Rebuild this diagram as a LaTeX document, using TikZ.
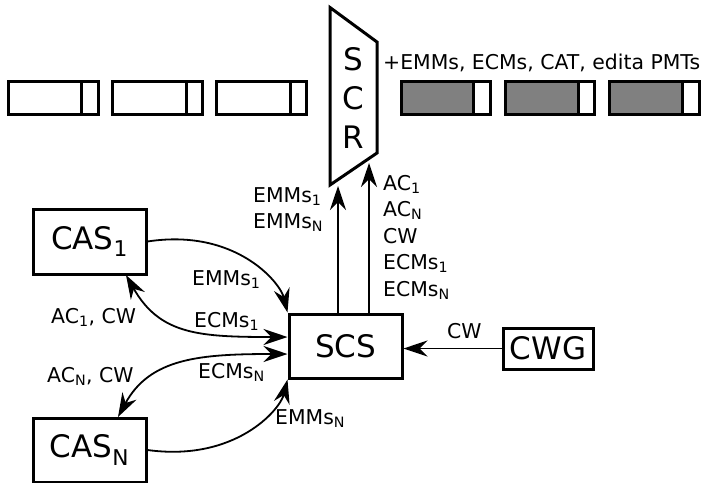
\documentclass[tikz,border=0pt]{standalone}
\usepackage{fontspec}
\setmainfont{DejaVu Sans}
\usetikzlibrary{arrows.meta}
\newcommand{\sbs}[1]{\textsubscript{#1}}
\tikzset{
  box/.style={draw, line width=3pt, rectangle, inner sep=0pt, font=\fontsize{31}{33}\selectfont},
  conn/.style={line width=1.8pt, -{Stealth[length=24pt,width=16pt,inset=8pt]}},
  bconn/.style={line width=1.8pt, {Stealth[length=24pt,width=16pt,inset=8pt]}-{Stealth[length=24pt,width=16pt,inset=8pt]}},
  lbl/.style={font=\fontsize{20.4}{22}\selectfont, anchor=base west, inner sep=0pt},
  pkt/.style={draw, line width=3pt},
}
\begin{document}
\begin{tikzpicture}[x=1pt,y=1pt]
\useasboundingbox (0,0) rectangle (701,-482);
% packets left
\foreach \a/\d/\b in {8/81/98, 112/186/202, 216/290/306}{
  \draw[pkt] (\a,-81) rectangle (\b,-114);
  \draw[pkt] (\d,-81) -- (\d,-114);
}
% packets right (gray)
\foreach \a/\d/\b in {401/473/490, 505/578/594, 609/682/699}{
  \fill[gray] (\a,-81) rectangle (\d,-114);
  \draw[pkt] (\a,-81) rectangle (\b,-114);
  \draw[pkt] (\d,-81) -- (\d,-114);
}
% SCR
\draw[line width=3pt, line join=miter] (330,-7.5) -- (377,-42) -- (377,-153) -- (330,-185) -- cycle;
\node[font=\fontsize{31}{33}\selectfont, anchor=base] (scrS) at (353,-70) {S};
\node[font=\fontsize{31}{33}\selectfont, anchor=base] (scrC) at (353,-109) {C};
\node[font=\fontsize{31}{33}\selectfont, anchor=base] (scrR) at (353,-148) {R};
\node[lbl] (hdr) at (383,-69) {+EMMs, ECMs, CAT, edita PMTs};
\coordinate (scr1) at (338,-186);
\coordinate (scr2) at (369,-163);
% boxes
\node[box, minimum width=113pt, minimum height=65pt] (cas1) at (89.5,-241.5) {CAS\sbs{1}};
\node[box, minimum width=113pt, minimum height=64pt] (casn) at (89.5,-450) {CAS\sbs{N}};
\node[box, minimum width=113pt, minimum height=64pt] (scs) at (345.5,-346) {SCS};
\node[box, minimum width=90pt, minimum height=41pt] (cwg) at (548,-348.5) {CWG};
% connectors to SCR
\draw[conn] (scs.north -| scr1) -- (scr1);
\draw[conn] (scs.north -| scr2) -- (scr2);
\node[lbl] (e1) at (253,-202) {EMMs\sbs{1}};
\node[lbl] (en) at (253,-228) {EMMs\sbs{N}};
\node[lbl] (l1) at (383,-190) {AC\sbs{1}};
\node[lbl] (l2) at (383,-216.5) {AC\sbs{N}};
\node[lbl] (l3) at (383,-243) {CW};
\node[lbl] (l4) at (383,-269.5) {ECMs\sbs{1}};
\node[lbl] (l5) at (383,-296) {ECMs\sbs{N}};
% CWG -> SCS
\draw[conn] (cwg.west) -- (scs.east |- cwg.west);
\node[lbl] (cwl) at (447,-338) {CW};
% curves
\coordinate (c1s) at (126,-275);
\coordinate (cns) at (118,-417);
\draw[conn] (cas1.east) .. controls (235,-228) and (280,-282) .. (scs.north west);
\draw[bconn] (c1s) .. controls (160,-335) and (200,-337) .. (scs.west |- 0,-337);
\draw[bconn] (scs.west |- 0,-354) .. controls (200,-354) and (150,-358) .. (cns);
\draw[conn] (casn.east) .. controls (235,-462) and (280,-410) .. (scs.south west);
\node[lbl] (m1) at (192,-285) {EMMs\sbs{1}};
\node[lbl] (a1) at (51,-323) {AC\sbs{1}, CW};
\node[lbl] (k1) at (194,-327) {ECMs\sbs{1}};
\node[lbl] (an) at (47,-382) {AC\sbs{N}, CW};
\node[lbl] (kn) at (198,-378) {ECMs\sbs{N}};
\node[lbl] (mn) at (275,-424) {EMMs\sbs{N}};
\end{tikzpicture}
\end{document}
